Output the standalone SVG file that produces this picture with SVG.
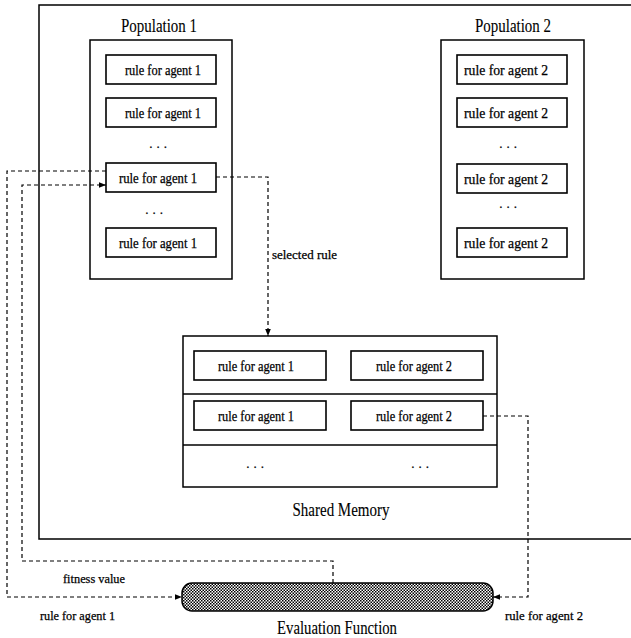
<svg xmlns="http://www.w3.org/2000/svg" width="631" height="638" viewBox="0 0 631 638">
<style>
.box{fill:#fff;stroke:#000;stroke-width:1.5}
.rule{fill:#fff;stroke:#000;stroke-width:1.6}
.t{font-family:"Liberation Serif","Times New Roman",serif;fill:#000;stroke:#000;stroke-width:0.25}
.r{font-size:14.5px;text-anchor:middle}
.title{font-size:18px;text-anchor:middle;stroke-width:0.1}
.lbl{font-size:13px}
.dots{font-size:13px;text-anchor:middle;letter-spacing:4px}
.dash{fill:none;stroke:#000;stroke-width:1.2;stroke-dasharray:4 3}
</style>
<defs>
<marker id="arr" viewBox="0 0 10 10" refX="10" refY="5" markerWidth="7" markerHeight="7" orient="auto" markerUnits="userSpaceOnUse">
<path d="M0,1 L10,5 L0,9 z" fill="#000"/>
</marker>
<pattern id="hatch" width="3" height="3" patternUnits="userSpaceOnUse">
<rect width="3" height="3" fill="#fff"/>
<rect width="1.5" height="1.5" fill="#000"/>
<rect x="1.5" y="1.5" width="1.5" height="1.5" fill="#000"/>
</pattern>
</defs>
<rect width="631" height="638" fill="#fff"/>
<g id="frame">
<path d="M631,5 L39,5 L39,539 L631,539" fill="none" stroke="#000" stroke-width="1.5"/>
</g>
<g id="population1">
<text class="t title" x="159" y="32" textLength="76" lengthAdjust="spacingAndGlyphs">Population 1</text>
<rect class="box" x="90" y="40" width="142" height="239"/>
<rect class="rule" x="106" y="55" width="110" height="29"/>
<text class="t r" x="163" y="75" textLength="76" lengthAdjust="spacingAndGlyphs">rule for agent 1</text>
<rect class="rule" x="106" y="98" width="110" height="29"/>
<text class="t r" x="163" y="118" textLength="76" lengthAdjust="spacingAndGlyphs">rule for agent 1</text>
<text class="t dots" x="160" y="148">...</text>
<rect class="rule" x="106" y="163" width="110" height="29"/>
<text class="t r" x="158" y="183" textLength="78" lengthAdjust="spacingAndGlyphs">rule for agent 1</text>
<text class="t dots" x="156" y="214">...</text>
<rect class="rule" x="106" y="228" width="110" height="29"/>
<text class="t r" x="158" y="248" textLength="78" lengthAdjust="spacingAndGlyphs">rule for agent 1</text>
</g>
<g id="population2">
<text class="t title" x="513" y="32" textLength="76" lengthAdjust="spacingAndGlyphs">Population 2</text>
<rect class="box" x="441" y="40" width="143" height="239"/>
<rect class="rule" x="457" y="55" width="110" height="29"/>
<text class="t r" x="506" y="75" textLength="84" lengthAdjust="spacingAndGlyphs">rule for agent 2</text>
<rect class="rule" x="457" y="98" width="110" height="29"/>
<text class="t r" x="506" y="118" textLength="84" lengthAdjust="spacingAndGlyphs">rule for agent 2</text>
<text class="t dots" x="510" y="148">...</text>
<rect class="rule" x="457" y="164" width="110" height="29"/>
<text class="t r" x="506" y="184" textLength="84" lengthAdjust="spacingAndGlyphs">rule for agent 2</text>
<text class="t dots" x="510" y="208">...</text>
<rect class="rule" x="457" y="228" width="110" height="29"/>
<text class="t r" x="506" y="248" textLength="84" lengthAdjust="spacingAndGlyphs">rule for agent 2</text>
</g>
<g id="sharedMemory">
<rect class="box" x="183" y="336" width="314" height="151"/>
<line x1="183" y1="394" x2="497" y2="394" stroke="#000" stroke-width="1.3"/>
<line x1="183" y1="445" x2="497" y2="445" stroke="#000" stroke-width="1.3"/>
<rect class="rule" x="194" y="351" width="132" height="29"/>
<text class="t r" x="256" y="371" textLength="76" lengthAdjust="spacingAndGlyphs">rule for agent 1</text>
<rect class="rule" x="351" y="351" width="132" height="29"/>
<text class="t r" x="414" y="371" textLength="76" lengthAdjust="spacingAndGlyphs">rule for agent 2</text>
<rect class="rule" x="194" y="401" width="132" height="29"/>
<text class="t r" x="256" y="421" textLength="76" lengthAdjust="spacingAndGlyphs">rule for agent 1</text>
<rect class="rule" x="351" y="401" width="132" height="29"/>
<text class="t r" x="414" y="421" textLength="76" lengthAdjust="spacingAndGlyphs">rule for agent 2</text>
<text class="t dots" x="257" y="468">...</text>
<text class="t dots" x="422" y="468">...</text>
<text class="t title" x="341" y="516" textLength="97" lengthAdjust="spacingAndGlyphs">Shared Memory</text>
</g>
<g id="evaluation">
<rect x="182" y="583" width="311" height="28" rx="10" ry="10" fill="url(#hatch)" stroke="#000" stroke-width="1.5"/>
<text class="t title" x="337" y="634" textLength="120" lengthAdjust="spacingAndGlyphs">Evaluation Function</text>
</g>
<g id="connectors">
<path class="dash" d="M216,177 L268,177 L268,336" marker-end="url(#arr)"/>
<path class="dash" d="M106,171 L7,171 L7,597 L182,597" marker-end="url(#arr)"/>
<path class="dash" d="M333,583 L333,561 L22,561 L22,185 L106,185" marker-end="url(#arr)"/>
<path class="dash" d="M483,416 L528,416 L528,597 L493,597" marker-end="url(#arr)"/>
<text class="t lbl" x="272" y="259" textLength="65" lengthAdjust="spacingAndGlyphs">selected rule</text>
<text class="t lbl" x="63" y="583" textLength="62" lengthAdjust="spacingAndGlyphs">fitness value</text>
<text class="t lbl" x="40" y="620" textLength="75" lengthAdjust="spacingAndGlyphs">rule for agent 1</text>
<text class="t lbl" x="505" y="620" textLength="78" lengthAdjust="spacingAndGlyphs">rule for agent 2</text>
</g>
</svg>
